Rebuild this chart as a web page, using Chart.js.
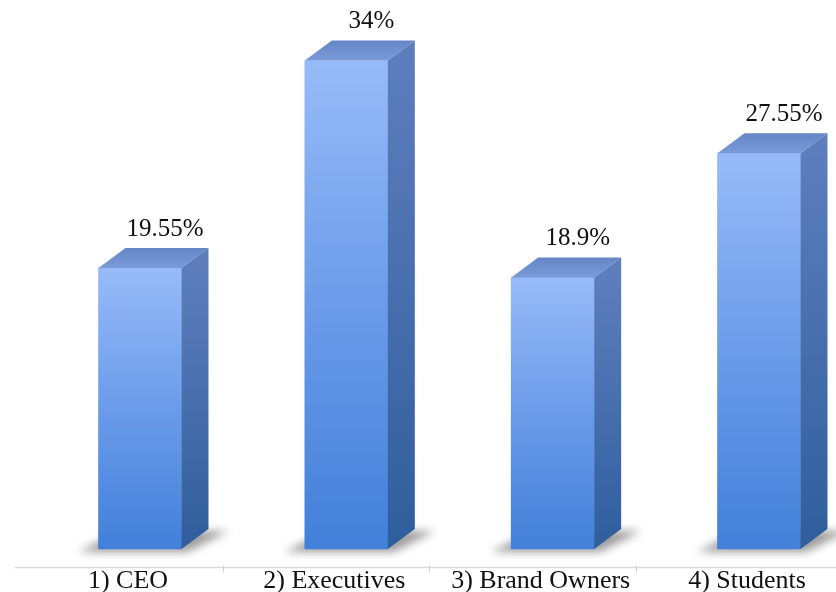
<!DOCTYPE html>
<html>
<head>
<meta charset="utf-8">
<title>Respondent groups</title>
<style>
  html, body { margin: 0; padding: 0; background: #ffffff; overflow: hidden; }
  #wrap { width: 836px; height: 592px; }
</style>
<script src="https://cdn.jsdelivr.net/npm/chart.js@4/dist/chart.umd.min.js"></script>
</head>
<body>
<div id="wrap"><canvas id="chart" width="836" height="592"></canvas></div>
<script>
// Respondent groups and their share of the sample (%)
const categories = ['1) CEO', '2) Executives', '3) Brand Owners', '4) Students'];
const shares = [19.55, 34, 18.9, 27.55];

// Extrusion of the pseudo-3D bars (pixels)
const DEPTH_X = 27;
const DEPTH_Y = 20;
const SERIF = '"Liberation Serif", "Times New Roman", serif';

function frontFill(c) {
  const chart = c.chart;
  if (!chart.chartArea) return '#6f9be6';
  const y = chart.scales.y;
  const top = y.getPixelForValue(shares[c.dataIndex]);
  const bottom = y.getPixelForValue(0);
  const g = chart.ctx.createLinearGradient(0, top, 0, bottom);
  g.addColorStop(0, '#97bbf8');
  g.addColorStop(0.5, '#6b9be9');
  g.addColorStop(1, '#4280d9');
  return g;
}

const bar3d = {
  id: 'bar3d',
  beforeDatasetsDraw(chart) {
    const ctx = chart.ctx;
    const meta = chart.getDatasetMeta(0);
    const base = chart.scales.y.getPixelForValue(0);
    ctx.save();
    // soft floor shadow under each bar
    meta.data.forEach(b => {
      const l = b.x - b.width / 2, r = b.x + b.width / 2;
      ctx.filter = 'blur(4px)';
      ctx.fillStyle = 'rgba(40,40,40,0.45)';
      ctx.beginPath();
      ctx.moveTo(l - 20, base + 3);
      ctx.lineTo(r + 6, base + 3);
      ctx.lineTo(r + DEPTH_X + 20, base - DEPTH_Y + 2);
      ctx.lineTo(l + DEPTH_X - 6, base - DEPTH_Y + 2);
      ctx.closePath();
      ctx.fill();
    });
    ctx.filter = 'none';
    // category axis line with tick marks between groups
    const axisY = base + 18.5;
    ctx.strokeStyle = '#d9d9d9';
    ctx.lineWidth = 1.5;
    ctx.beginPath();
    ctx.moveTo(15, axisY);
    ctx.lineTo(836, axisY);
    ctx.stroke();
    ctx.strokeStyle = '#cfcfcf';
    ctx.lineWidth = 1;
    for (let i = 0; i < meta.data.length - 1; i++) {
      const x = Math.round(meta.data[i].x + 83) + 0.5;
      ctx.beginPath();
      ctx.moveTo(x, axisY - 2);
      ctx.lineTo(x, axisY + 5);
      ctx.stroke();
    }
    ctx.restore();
  },
  afterDatasetsDraw(chart) {
    const ctx = chart.ctx;
    const meta = chart.getDatasetMeta(0);
    const base = chart.scales.y.getPixelForValue(0);
    ctx.save();
    meta.data.forEach((b, i) => {
      const l = b.x - b.width / 2, r = b.x + b.width / 2, top = b.y;
      // top face
      const gt = ctx.createLinearGradient(0, top, 0, top - DEPTH_Y);
      gt.addColorStop(0, '#7a9ad8');
      gt.addColorStop(1, '#6586c6');
      ctx.fillStyle = gt;
      ctx.beginPath();
      ctx.moveTo(l, top);
      ctx.lineTo(l + DEPTH_X, top - DEPTH_Y);
      ctx.lineTo(r + DEPTH_X, top - DEPTH_Y);
      ctx.lineTo(r, top);
      ctx.closePath();
      ctx.fill();
      // side face
      const gs = ctx.createLinearGradient(0, top, 0, base);
      gs.addColorStop(0, '#5d7dbd');
      gs.addColorStop(1, '#2f5e9d');
      ctx.fillStyle = gs;
      ctx.beginPath();
      ctx.moveTo(r, top);
      ctx.lineTo(r + DEPTH_X, top - DEPTH_Y);
      ctx.lineTo(r + DEPTH_X, base - DEPTH_Y);
      ctx.lineTo(r, base);
      ctx.closePath();
      ctx.fill();
      // value label above the bar
      ctx.fillStyle = '#111111';
      ctx.textAlign = 'center';
      ctx.textBaseline = 'alphabetic';
      ctx.font = '25px ' + SERIF;
      ctx.fillText(shares[i] + '%', b.x + 25, top - 32);
      // category label below the axis
      ctx.font = '26px ' + SERIF;
      ctx.fillText(categories[i], b.x - 12, 588);
    });
    ctx.restore();
  }
};

new Chart(document.getElementById('chart'), {
  type: 'bar',
  data: {
    labels: categories,
    datasets: [{
      data: shares,
      backgroundColor: frontFill,
      borderWidth: 0,
      barThickness: 83,
      clip: false
    }]
  },
  options: {
    responsive: false,
    animation: false,
    layout: { padding: { left: 140, right: 77, top: 3, bottom: 43 } },
    scales: {
      x: { display: false, offset: false },
      y: { display: false, min: 0, max: 38 }
    },
    plugins: { legend: { display: false }, tooltip: { enabled: false } }
  },
  plugins: [bar3d]
});
</script>
</body>
</html>
